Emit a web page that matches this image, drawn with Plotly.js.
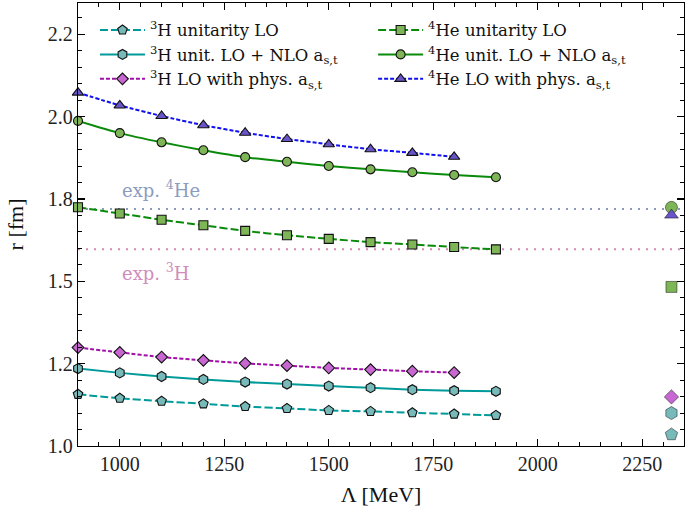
<!DOCTYPE html>
<html>
<head>
<meta charset="utf-8">
<script src="https://cdn.plot.ly/plotly-3.0.1.min.js"></script>
<style>html,body{margin:0;padding:0;background:#fff;}#chart{width:685px;height:511px;}</style>
</head>
<body>
<div id="chart"></div>
<script>
// Cutoff values (MeV)
const lambdaFull = [900, 1000, 1100, 1200, 1300, 1400, 1500, 1600, 1700, 1800, 1900];
const lambdaPhys = [900, 1000, 1100, 1200, 1300, 1400, 1500, 1600, 1700, 1800];

// 3H radii (fm)
const h3UnitLO  = [1.157, 1.145, 1.136, 1.128, 1.120, 1.114, 1.108, 1.105, 1.101, 1.097, 1.093];
const h3UnitNLO = [1.235, 1.222, 1.211, 1.202, 1.194, 1.188, 1.182, 1.177, 1.171, 1.168, 1.166];
const h3Phys    = [1.299, 1.284, 1.270, 1.260, 1.251, 1.244, 1.237, 1.232, 1.227, 1.223];

// 4He radii (fm)
const he4UnitLO  = [1.725, 1.706, 1.687, 1.670, 1.653, 1.640, 1.629, 1.619, 1.612, 1.604, 1.597];
const he4UnitNLO = [1.987, 1.950, 1.922, 1.898, 1.877, 1.863, 1.850, 1.840, 1.831, 1.823, 1.816];
const he4Phys    = [2.073, 2.034, 2.002, 1.974, 1.951, 1.932, 1.916, 1.901, 1.890, 1.878];

// Extrapolated / limit points at the right
const limitX = 2320;
const h3UnitLOLimit = 1.035, h3UnitNLOLimit = 1.100, h3PhysLimit = 1.149;
const he4UnitLOLimit = 1.483, he4UnitNLOLimit = 1.7245, he4PhysLimit = 1.701;

// Experimental values
const exp4He = 1.7195;
const exp3H = 1.597;

// Axis ticks
const xRange = [900, 2350];
const yRange = [1.0, 2.345];
const yTickVals = [1.0, 1.25, 1.5, 1.75, 2.0, 2.25];
const yTickText = ['1.0', '1.2', '1.5', '1.8', '2.0', '2.2'];

// Legend labels
const names = [
  '<sup>3</sup>H unitarity LO',
  '<sup>3</sup>H unit. LO + NLO a<sub>s,t</sub>',
  '<sup>3</sup>H LO with phys. a<sub>s,t</sub>',
  '<sup>4</sup>He unitarity LO',
  '<sup>4</sup>He unit. LO + NLO a<sub>s,t</sub>',
  '<sup>4</sup>He LO with phys. a<sub>s,t</sub>'
];

const FONT = 'Liberation Serif, Times New Roman, serif';
const FONT2 = 'DejaVu Serif, serif';
const teal = '#009a9a', tealFill = '#78b9b9';
const purple = '#a010a8', purpleFill = '#c866d2';
const green = '#0a8a0a', greenFill = '#7db557';
const blue = '#1010f0', blueFill = '#6a55c8';
const edge = {color: '#111', width: 1.1};
const edgeLimit = {color: 'rgba(0,0,0,0.45)', width: 1};

function series(x, y, name, color, dash, symbol, size, fill, legend) {
  return {
    x: x, y: y, name: name, type: 'scatter', mode: 'lines+markers',
    legend: legend, cliponaxis: false,
    line: {color: color, width: 2, dash: dash, shape: 'spline', smoothing: 0.6},
    marker: {symbol: symbol, size: size, color: fill, line: edge}
  };
}
function limit(y, symbol, size, fill) {
  return {
    x: [limitX], y: [y], type: 'scatter', mode: 'markers', showlegend: false, cliponaxis: false,
    marker: {symbol: symbol, size: size, color: fill, line: edgeLimit}
  };
}

const traces = [
  series(lambdaFull, h3UnitLO, names[0], teal, '8px,3px', 'pentagon', 10, tealFill, 'legend'),
  series(lambdaFull, h3UnitNLO, names[1], teal, 'solid', 'hexagon', 10, tealFill, 'legend'),
  series(lambdaPhys, h3Phys, names[2], purple, '4px,2px', 'diamond', 9, purpleFill, 'legend'),
  series(lambdaFull, he4UnitLO, names[3], green, '8px,3px', 'square', 9, greenFill, 'legend2'),
  series(lambdaFull, he4UnitNLO, names[4], green, 'solid', 'circle', 9, greenFill, 'legend2'),
  series(lambdaPhys, he4Phys, names[5], blue, '4px,2px', 'triangle-up', 10, blueFill, 'legend2'),
  limit(h3UnitLOLimit, 'pentagon', 13, tealFill),
  limit(h3UnitNLOLimit, 'hexagon', 13, tealFill),
  limit(h3PhysLimit, 'diamond', 11, purpleFill),
  limit(he4UnitLOLimit, 'square', 11, greenFill),
  limit(he4UnitNLOLimit, 'circle', 12, greenFill),
  limit(he4PhysLimit, 'triangle-up', 12, blueFill)
];

const axisCommon = {
  showgrid: false, zeroline: false, showline: true, linecolor: '#000', linewidth: 1.3,
  mirror: 'allticks', ticks: 'inside', ticklen: 7, tickwidth: 1.1, tickcolor: '#000',
  tickfont: {family: FONT, size: 20, color: '#222'}
};

const layout = {
  width: 685, height: 511,
  margin: {l: 78, r: 1, t: 3, b: 65},
  paper_bgcolor: '#fff', plot_bgcolor: '#fff',
  font: {family: FONT, color: '#111'},
  xaxis: Object.assign({}, axisCommon, {
    range: xRange, dtick: 250, tick0: 1000,
    minor: {dtick: 50, ticks: 'inside', ticklen: 4, tickcolor: '#000', tickwidth: 1},
    title: {text: 'Λ [MeV]', font: {family: FONT, size: 22, color: '#111'}, standoff: 12}
  }),
  yaxis: Object.assign({}, axisCommon, {
    range: yRange, tickmode: 'array', tickvals: yTickVals, ticktext: yTickText,
    minor: {dtick: 0.05, tick0: 1.0, ticks: 'inside', ticklen: 4, tickcolor: '#000', tickwidth: 1},
    title: {text: 'r [fm]', font: {family: FONT, size: 22, color: '#111'}, standoff: 18}
  }),
  legend: {
    x: 0.028, y: 0.978, xanchor: 'left', yanchor: 'top', bgcolor: 'rgba(0,0,0,0)',
    font: {family: FONT2, size: 16.5, color: '#111'}, itemwidth: 45
  },
  legend2: {
    x: 0.487, y: 0.978, xanchor: 'left', yanchor: 'top', bgcolor: 'rgba(0,0,0,0)',
    font: {family: FONT2, size: 16.5, color: '#111'}, itemwidth: 45
  },
  shapes: [
    {type: 'line', xref: 'paper', x0: 0, x1: 1, yref: 'y', y0: exp4He, y1: exp4He,
     line: {color: '#8c9cbf', width: 2, dash: '2px,6px'}, layer: 'below'},
    {type: 'line', xref: 'paper', x0: 0, x1: 1, yref: 'y', y0: exp3H, y1: exp3H,
     line: {color: '#d08cbb', width: 2, dash: '2px,6px'}, layer: 'below'}
  ],
  annotations: [
    {x: 1000, y: 1.78, xref: 'x', yref: 'y', xanchor: 'left', yanchor: 'middle', showarrow: false,
     text: 'exp. <sup>4</sup>He', font: {family: FONT2, size: 18, color: '#8c9cbf'}},
    {x: 1000, y: 1.527, xref: 'x', yref: 'y', xanchor: 'left', yanchor: 'middle', showarrow: false,
     text: 'exp. <sup>3</sup>H', font: {family: FONT2, size: 18, color: '#d08cbb'}}
  ]
};

Plotly.newPlot('chart', traces, layout, {displayModeBar: false, staticPlot: true});
</script>
</body>
</html>
